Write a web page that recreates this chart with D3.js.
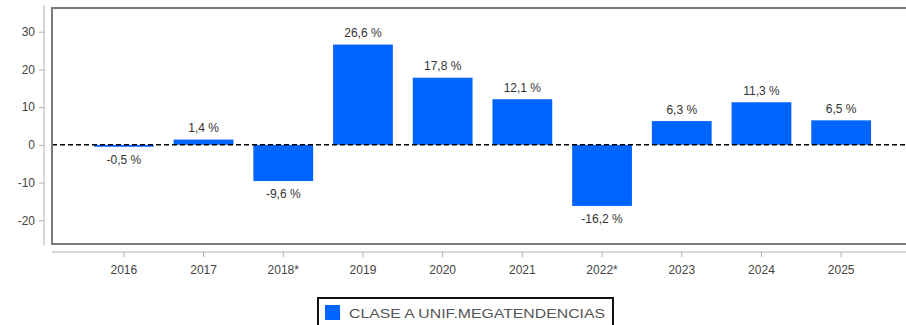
<!DOCTYPE html>
<html>
<head>
<meta charset="utf-8">
<script src="https://cdn.jsdelivr.net/npm/d3@7"></script>
<style>
  html, body { margin: 0; padding: 0; background: #fff; }
  svg { display: block; font-family: "Liberation Sans", Arial, sans-serif; }
</style>
</head>
<body>
<svg id="chart" width="906" height="325"></svg>
<script>
// Annual returns by year
const years = ["2016", "2017", "2018*", "2019", "2020", "2021", "2022*", "2023", "2024", "2025"];
const returns = [-0.5, 1.4, -9.6, 26.6, 17.8, 12.1, -16.2, 6.3, 11.3, 6.5];
const yTicks = [-20, -10, 0, 10, 20, 30];
const seriesName = "CLASE A UNIF.MEGATENDENCIAS";

const barColor = "#0064ff";
const svg = d3.select("#chart");

const plot = { left: 52, right: 906, top: 8, bottom: 244 };

const x = d3.scaleBand()
  .domain(years)
  .range([84, 881])
  .paddingInner(0.25)
  .paddingOuter(0.125);

const y = d3.scaleLinear()
  .domain([-26.3, 36.3])
  .range([plot.bottom, plot.top]);

// Plain hyphen for negatives, comma as decimal separator
const fmt = v => d3.format(".1f")(v).replace("\u2212", "-").replace(".", ",") + " %";
const fmtTick = v => String(v);

const rows = years.map((c, i) => ({ c, v: returns[i] }));

// Bars
svg.append("g").selectAll("rect")
  .data(rows)
  .join("rect")
  .attr("x", d => x(d.c))
  .attr("width", x.bandwidth())
  .attr("y", d => y(Math.max(0, d.v)))
  .attr("height", d => Math.abs(y(d.v) - y(0)))
  .attr("fill", barColor);

// Zero line
svg.append("line")
  .attr("x1", plot.left).attr("x2", plot.right)
  .attr("y1", y(0)).attr("y2", y(0))
  .attr("stroke", "#000")
  .attr("stroke-width", 1.5)
  .attr("stroke-dasharray", "5,3");

// Value labels
svg.append("g").selectAll("text")
  .data(rows)
  .join("text")
  .attr("x", d => x(d.c) + x.bandwidth() / 2)
  .attr("y", d => d.v >= 0 ? y(d.v) - 7.5 : y(d.v) + 17)
  .attr("text-anchor", "middle")
  .attr("font-size", 12)
  .attr("fill", "#333")
  .text(d => fmt(d.v));

// Plot frame
svg.append("rect")
  .attr("x", plot.left).attr("y", plot.top)
  .attr("width", plot.right - plot.left + 4)
  .attr("height", plot.bottom - plot.top)
  .attr("fill", "none")
  .attr("stroke", "#7a7a7a")
  .attr("stroke-width", 2);

// Y axis
const yAxis = d3.axisLeft(y)
  .tickValues(yTicks)
  .tickSize(5)
  .tickPadding(4)
  .tickFormat(fmtTick);
const gy = svg.append("g")
  .attr("transform", "translate(44,0)")
  .call(yAxis);
gy.select(".domain").attr("d", `M0,5V${plot.bottom + 1}`).attr("stroke", "#b0b0b0");
gy.selectAll(".tick line").attr("stroke", "#b0b0b0");
gy.selectAll(".tick text")
  .attr("font-size", 12)
  .attr("fill", "#444")
  .attr("font-family", "Liberation Sans, Arial, sans-serif");

// X axis
const xAxis = d3.axisBottom(x)
  .tickSize(5)
  .tickPadding(8);
const gx = svg.append("g")
  .attr("transform", "translate(0,252)")
  .call(xAxis);
gx.select(".domain").attr("d", `M${plot.left},0H${plot.right}`).attr("stroke", "#b0b0b0");
gx.selectAll(".tick line").attr("stroke", "#b0b0b0");
gx.selectAll(".tick text")
  .attr("font-size", 12)
  .attr("fill", "#444")
  .attr("font-family", "Liberation Sans, Arial, sans-serif");

// Legend
const lg = svg.append("g");
lg.append("rect")
  .attr("x", 318).attr("y", 298)
  .attr("width", 295).attr("height", 40)
  .attr("fill", "#fff")
  .attr("stroke", "#111")
  .attr("stroke-width", 2);
lg.append("rect")
  .attr("x", 325).attr("y", 305)
  .attr("width", 15).attr("height", 15)
  .attr("fill", barColor);
lg.append("text")
  .attr("x", 349).attr("y", 318)
  .attr("font-size", 13)
  .attr("fill", "#555")
  .attr("textLength", 256)
  .attr("lengthAdjust", "spacingAndGlyphs")
  .text(seriesName);
</script>
</body>
</html>
